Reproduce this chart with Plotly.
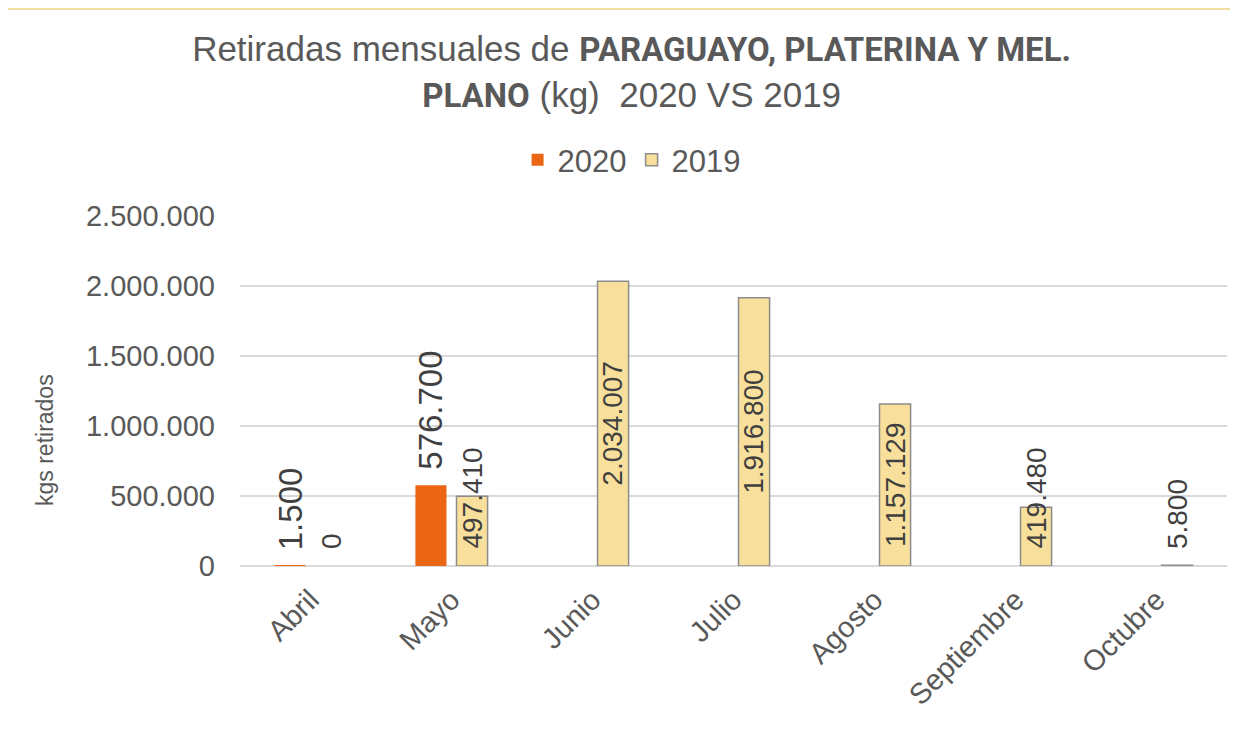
import plotly.graph_objects as go

# ---- data ----
months = ["Abril", "Mayo", "Junio", "Julio", "Agosto", "Septiembre", "Octubre"]
v2020 = [1500, 576700, None, None, None, None, None]
v2019 = [0, 497410, 2034007, 1916800, 1157129, 419480, 5800]
y_tickvals = [0, 500000, 1000000, 1500000, 2000000, 2500000]
series_names = ["2020", "2019"]


def fmt(v):
    return f"{v:,}".replace(",", ".")


# ---- layout constants (the page body adds an 8px offset) ----
W, H = 1230, 726
ML, MR, MT, MB = 232, 11, 208, 168
PW, PH = W - ML - MR, H - MT - MB
YMAX = y_tickvals[-1]
BARGAP, GROUPGAP = 0.417, 0.244
FONT = "Liberation Sans"
GREY = "#595959"
DARK = "#404040"
ORANGE = "#EA6614"
YELLOW = "#F8E09C"
BORDER_Y = "#F2DFA4"

cat_px = PW / len(months)
bar_off = cat_px * (1 - BARGAP) / 4  # centre offset of each bar in a group

fig = go.Figure()
fig.add_trace(go.Bar(name=series_names[0], x=months, y=v2020,
                     marker=dict(color=ORANGE, line=dict(width=0))))
# zero-height bars draw nothing; leave them out so no stray outline appears
fig.add_trace(go.Bar(name=series_names[1], x=months,
                     y=[v if v else None for v in v2019],
                     marker=dict(color=YELLOW, line=dict(color="#8C8C8C", width=1.5))))

annotations = []
# 2020 labels: outside end
for m, v in zip(months, v2020):
    if v is None:
        continue
    annotations.append(dict(x=m, y=v, xref="x", yref="y", text=fmt(v), showarrow=False,
                            textangle=-90, xshift=-bar_off, yshift=14, yanchor="bottom",
                            xanchor="center", font=dict(family=FONT, size=33, color=DARK)))
# 2019 labels: centred in bar, or above baseline when they don't fit
LBL19 = 28
for m, v in zip(months, v2019):
    txt = fmt(v)
    txt_px = LBL19 * (0.556 * sum(c.isdigit() for c in txt) + 0.278 * txt.count("."))
    bar_px = v / YMAX * PH
    if bar_px > txt_px + 12:
        a = dict(y=v / 2, yanchor="middle", yshift=0)
    else:
        a = dict(y=0, yanchor="bottom", yshift=15)
    a.update(x=m, xref="x", yref="y", text=txt, showarrow=False, textangle=-90,
             xshift=bar_off, xanchor="center", font=dict(family=FONT, size=LBL19, color=DARK))
    annotations.append(a)

# y-axis title
annotations.append(dict(x=(37 - ML) / PW, y=(H - MB - 432) / PH, xref="paper", yref="paper",
                        xanchor="center", yanchor="middle",
                        text="kgs retirados", showarrow=False, textangle=-90,
                        font=dict(family=FONT, size=23, color=GREY)))

# decorative parchment strip along the top
shapes = [
    dict(type="rect", xref="paper", yref="paper", x0=-ML / PW, x1=(PW + MR) / PW,
         y0=(PH + MT - 2) / PH, y1=(PH + MT) / PH, fillcolor=BORDER_Y, line=dict(width=0),
         layer="below"),
]

BOLD = '<span style="font-family:Roboto;font-weight:bold;font-size:33px">'
fig.update_layout(
    width=W, height=H,
    margin=dict(l=ML, r=MR, t=MT, b=MB, pad=0),
    paper_bgcolor="white", plot_bgcolor="white",
    separators=",.",
    barmode="group", bargap=BARGAP, bargroupgap=GROUPGAP,
    font=dict(family=FONT, color=GREY),
    title=dict(
        text="Retiradas mensuales de " + BOLD + "PARAGUAYO, PLATERINA Y MEL.</span><br>"
             + BOLD + "PLANO</span> (kg)\u00a0 2020 VS 2019",
        x=0.507, xref="container", xanchor="center",
        y=1 - 53 / H, yref="container", yanchor="top",
        font=dict(family=FONT, size=35, color=GREY),
    ),
    legend=dict(orientation="h", xref="container", yref="container",
                x=0.507, xanchor="center", y=1 - 152 / H, yanchor="middle",
                font=dict(family=FONT, size=31, color=GREY), traceorder="normal"),
    xaxis=dict(tickangle=-45, tickfont=dict(family=FONT, size=29, color=GREY),
               showline=False, ticks="", showgrid=False, ticklabelstandoff=10),
    yaxis=dict(range=[0, YMAX], tickvals=y_tickvals, tickformat=",.0f",
               tickfont=dict(family=FONT, size=29, color=GREY),
               gridcolor="#D9D9D9", gridwidth=1.5,
               zeroline=True, zerolinecolor="#D9D9D9", zerolinewidth=1.5,
               showline=False, ticklabelstandoff=24),
    annotations=annotations,
    shapes=shapes,
)

fig.write_html("out.html")
